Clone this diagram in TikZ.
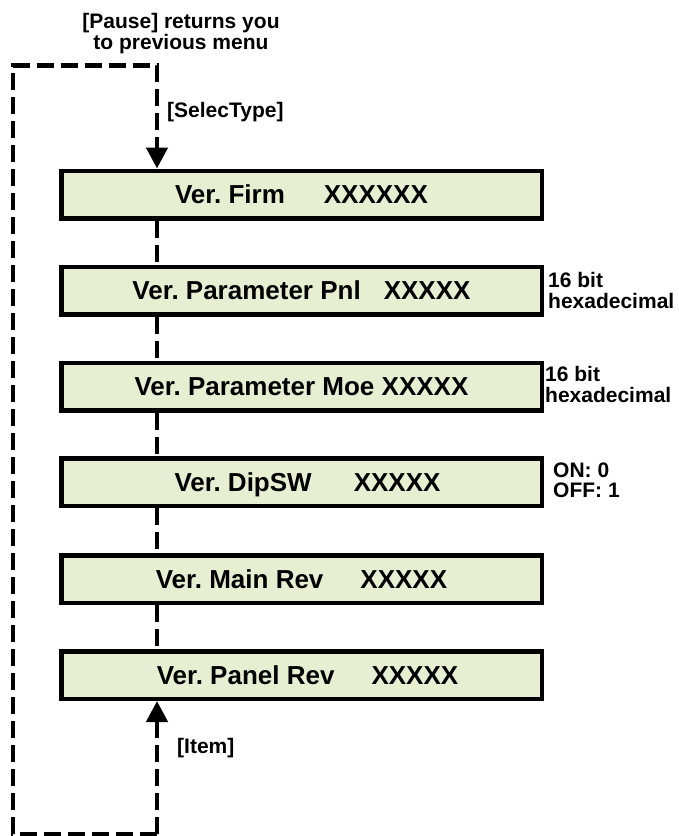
\documentclass[tikz,border=0pt]{standalone}
\usepackage{fontspec}
\setmainfont{Liberation Sans}
\usetikzlibrary{arrows.meta}
\definecolor{boxfill}{HTML}{E6EFD2}
\frenchspacing
\begin{document}
\begin{tikzpicture}[x=1pt,y=-1pt,
  vbox/.style={draw=black, line width=4.5pt, fill=boxfill, minimum width=480.5pt,
    minimum height=47.5pt, inner sep=0pt, text height=18.6pt, text depth=0pt,
    font=\fontsize{26}{30}\selectfont\bfseries\frenchspacing},
  lbl/.style={inner sep=0pt, font=\fontsize{21}{20}\selectfont\bfseries\frenchspacing},
  dline/.style={line width=4.5pt, dash pattern=on 17pt off 7pt},
  tip/.style={-{Triangle[length=21pt,width=21pt]}}
]
\useasboundingbox (0,0) rectangle (678,836);
% boxes
\node[vbox] (b1) at (301.5,194.5) {Ver. Firm\hspace{39pt}XXXXXX};
\node[vbox] (b2) at (301.5,290.5) {Ver. Parameter Pnl\hspace{23pt}XXXXX};
\node[vbox] (b3) at (301.5,386.5) {Ver. Parameter Moe XXXXX};
\node[vbox] (b4) at (301.5,482) {\hspace*{12pt}Ver. DipSW\hspace{42pt}XXXXX};
\node[vbox] (b5) at (301.5,579) {Ver. Main Rev\hspace{37pt}XXXXX};
\node[vbox] (b6) at (301.5,675) {\hspace*{12pt}Ver. Panel Rev\hspace{37pt}XXXXX};
% loop coordinates
\coordinate (cx) at (157,0);
\coordinate (tl) at (13,65.5);
\coordinate (tr) at (157,65.5);
\coordinate (bl) at (13,834);
\coordinate (br) at (157,834);
% connectors between boxes
\draw[dline] (b1.south -| cx) -- (b2.north -| cx);
\draw[dline] (b2.south -| cx) -- (b3.north -| cx);
\draw[dline] (b3.south -| cx) -- (b4.north -| cx);
\draw[dline] (b4.south -| cx) -- (b5.north -| cx);
\draw[dline] (b5.south -| cx) -- (b6.north -| cx);
% loop
\draw[dline, tip] (br) -- (bl) -- (tl) -- (tr) -- (b1.north -| cx);
\draw[dline, tip] (br) -- (b6.south -| cx);
% labels
\node[lbl, anchor=base] (pause) at (181,28)
  {\begin{tabular}[t]{@{}c@{}}[Pause] returns you\\to previous menu\end{tabular}};
\node[lbl, anchor=base west] (sel) at (167,117) {[SelecType]};
\node[lbl, anchor=base west] (item) at (177,753) {[Item]};
\node[lbl, anchor=base west] (n2) at (548,287)
  {\begin{tabular}[t]{@{}l@{}}16 bit\\hexadecimal\end{tabular}};
\node[lbl, anchor=base west] (n3) at (545,381)
  {\begin{tabular}[t]{@{}l@{}}16 bit\\hexadecimal\end{tabular}};
\node[lbl, anchor=base west] (n4) at (553,477)
  {\begin{tabular}[t]{@{}l@{}}ON: 0\\OFF: 1\end{tabular}};
\end{tikzpicture}
\end{document}
